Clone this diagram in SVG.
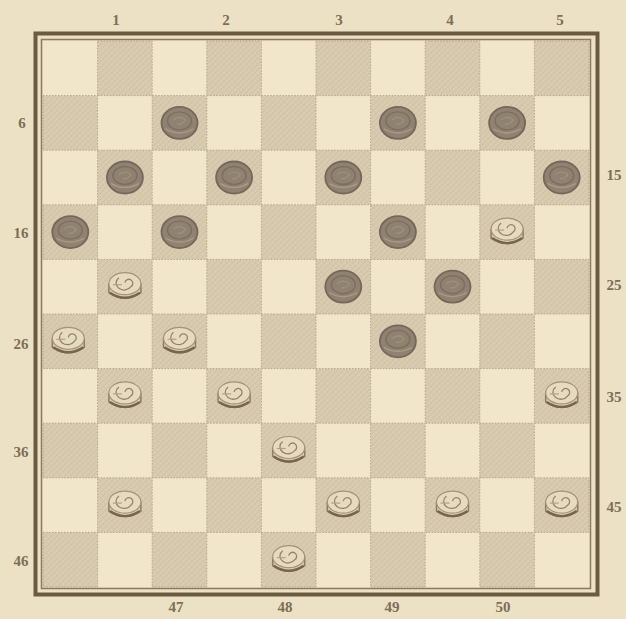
<svg xmlns="http://www.w3.org/2000/svg" width="626" height="619" viewBox="0 0 626 619">
<defs>
<pattern id="hatch" width="4" height="4" patternUnits="userSpaceOnUse" patternTransform="rotate(45)">
<rect width="4" height="4" fill="#d9ccb0"/>
<line x1="0" y1="0" x2="0" y2="4" stroke="#c6b89c" stroke-width="1"/>
<line x1="0" y1="0" x2="4" y2="0" stroke="#cfc1a5" stroke-width="0.8"/>
</pattern>
<g id="dark">
<rect width="54.6" height="54.6" fill="url(#hatch)" stroke="#b5a68a" stroke-width="1" stroke-dasharray="1.5 1.5"/>
</g>
<g id="black">
<ellipse cx="0" cy="0" rx="18" ry="16" fill="#908270" stroke="#75675a" stroke-width="1.8"/>
<ellipse cx="0" cy="-2" rx="12" ry="9" fill="none" stroke="#7c6e60" stroke-width="1.4"/>
<path d="M-14 6 Q0 14 14 6" fill="none" stroke="#a89a84" stroke-width="1.5"/>
<path d="M-6 -3 Q0 -8 6 -3 Q3 2 -2 1" fill="none" stroke="#a0927d" stroke-width="1.2"/>
</g>
<g id="white">
<path d="M-16 -3 L-16 6 Q0 17 16 6 L16 -3" fill="#d8cbae" stroke="#8c7c62" stroke-width="1.5"/>
<ellipse cx="0" cy="-3" rx="16" ry="11" fill="#e6dabf" stroke="#a39379" stroke-width="1.2"/>
<path d="M-15 6 Q0 16 15 6" fill="none" stroke="#76664e" stroke-width="2.4"/>
<path d="M0 -4 A4 4 0 1 1 6 0 A8 7 0 1 1 -6 -9" fill="none" stroke="#94846a" stroke-width="1.3"/>
<line x1="-12" y1="-2" x2="-3" y2="-2" stroke="#b0a288" stroke-width="1.2"/>
</g>
</defs>
<style>
.lbl{font-family:"Liberation Serif","DejaVu Serif",serif;font-size:15px;font-weight:bold;fill:#7d6e57;text-anchor:middle}
</style>
<rect width="626" height="619" fill="#ede1c5"/>
<g id="board">
<rect x="43" y="41" width="546" height="546" fill="#f1e5ca"/>
<use href="#dark" x="97.6" y="41"/><use href="#dark" x="206.8" y="41"/><use href="#dark" x="316" y="41"/><use href="#dark" x="425.2" y="41"/><use href="#dark" x="534.4" y="41"/>
<use href="#dark" x="43" y="95.6"/><use href="#dark" x="152.2" y="95.6"/><use href="#dark" x="261.4" y="95.6"/><use href="#dark" x="370.6" y="95.6"/><use href="#dark" x="479.8" y="95.6"/>
<use href="#dark" x="97.6" y="150.2"/><use href="#dark" x="206.8" y="150.2"/><use href="#dark" x="316" y="150.2"/><use href="#dark" x="425.2" y="150.2"/><use href="#dark" x="534.4" y="150.2"/>
<use href="#dark" x="43" y="204.8"/><use href="#dark" x="152.2" y="204.8"/><use href="#dark" x="261.4" y="204.8"/><use href="#dark" x="370.6" y="204.8"/><use href="#dark" x="479.8" y="204.8"/>
<use href="#dark" x="97.6" y="259.4"/><use href="#dark" x="206.8" y="259.4"/><use href="#dark" x="316" y="259.4"/><use href="#dark" x="425.2" y="259.4"/><use href="#dark" x="534.4" y="259.4"/>
<use href="#dark" x="43" y="314"/><use href="#dark" x="152.2" y="314"/><use href="#dark" x="261.4" y="314"/><use href="#dark" x="370.6" y="314"/><use href="#dark" x="479.8" y="314"/>
<use href="#dark" x="97.6" y="368.6"/><use href="#dark" x="206.8" y="368.6"/><use href="#dark" x="316" y="368.6"/><use href="#dark" x="425.2" y="368.6"/><use href="#dark" x="534.4" y="368.6"/>
<use href="#dark" x="43" y="423.2"/><use href="#dark" x="152.2" y="423.2"/><use href="#dark" x="261.4" y="423.2"/><use href="#dark" x="370.6" y="423.2"/><use href="#dark" x="479.8" y="423.2"/>
<use href="#dark" x="97.6" y="477.8"/><use href="#dark" x="206.8" y="477.8"/><use href="#dark" x="316" y="477.8"/><use href="#dark" x="425.2" y="477.8"/><use href="#dark" x="534.4" y="477.8"/>
<use href="#dark" x="43" y="532.4"/><use href="#dark" x="152.2" y="532.4"/><use href="#dark" x="261.4" y="532.4"/><use href="#dark" x="370.6" y="532.4"/><use href="#dark" x="479.8" y="532.4"/>
<rect x="41.5" y="39.5" width="549" height="549" fill="none" stroke="#8a7a60" stroke-width="1.5"/>
<rect x="35.5" y="33.5" width="562" height="561" fill="none" stroke="#6a5a42" stroke-width="4"/>
</g>
<g id="black-pieces">
<use id="p7" href="#black" x="179.5" y="122.9"/>
<use id="p9" href="#black" x="397.9" y="122.9"/>
<use id="p10" href="#black" x="507.1" y="122.9"/>
<use id="p11" href="#black" x="124.9" y="177.5"/>
<use id="p12" href="#black" x="234.1" y="177.5"/>
<use id="p13" href="#black" x="343.3" y="177.5"/>
<use id="p15" href="#black" x="561.7" y="177.5"/>
<use id="p16" href="#black" x="70.3" y="232.1"/>
<use id="p17" href="#black" x="179.5" y="232.1"/>
<use id="p19" href="#black" x="397.9" y="232.1"/>
<use id="p23" href="#black" x="343.3" y="286.7"/>
<use id="p24" href="#black" x="452.5" y="286.7"/>
<use id="p29" href="#black" x="397.9" y="341.3"/>
</g>
<g id="white-pieces">
<use id="p20" href="#white" x="507.1" y="232.1"/>
<use id="p21" href="#white" x="124.9" y="286.7"/>
<use id="p26" href="#white" x="68.3" y="341.3"/>
<use id="p27" href="#white" x="179.5" y="341.3"/>
<use id="p31" href="#white" x="124.9" y="395.9"/>
<use id="p32" href="#white" x="234.1" y="395.9"/>
<use id="p35" href="#white" x="561.7" y="395.9"/>
<use id="p38" href="#white" x="288.7" y="450.5"/>
<use id="p41" href="#white" x="124.9" y="505.1"/>
<use id="p43" href="#white" x="343.3" y="505.1"/>
<use id="p44" href="#white" x="452.5" y="505.1"/>
<use id="p45" href="#white" x="561.7" y="505.1"/>
<use id="p48" href="#white" x="288.7" y="559.7"/>
</g>
<g id="labels">
<text class="lbl" x="116" y="25">1</text>
<text class="lbl" x="226" y="25">2</text>
<text class="lbl" x="339" y="25">3</text>
<text class="lbl" x="450" y="25">4</text>
<text class="lbl" x="560" y="25">5</text>
<text class="lbl" x="22" y="128">6</text>
<text class="lbl" x="21" y="238">16</text>
<text class="lbl" x="21" y="349">26</text>
<text class="lbl" x="21" y="457">36</text>
<text class="lbl" x="21" y="566">46</text>
<text class="lbl" x="614" y="180">15</text>
<text class="lbl" x="614" y="290">25</text>
<text class="lbl" x="614" y="402">35</text>
<text class="lbl" x="614" y="512">45</text>
<text class="lbl" x="176" y="612">47</text>
<text class="lbl" x="285" y="612">48</text>
<text class="lbl" x="392" y="612">49</text>
<text class="lbl" x="503" y="612">50</text>
</g>
</svg>
